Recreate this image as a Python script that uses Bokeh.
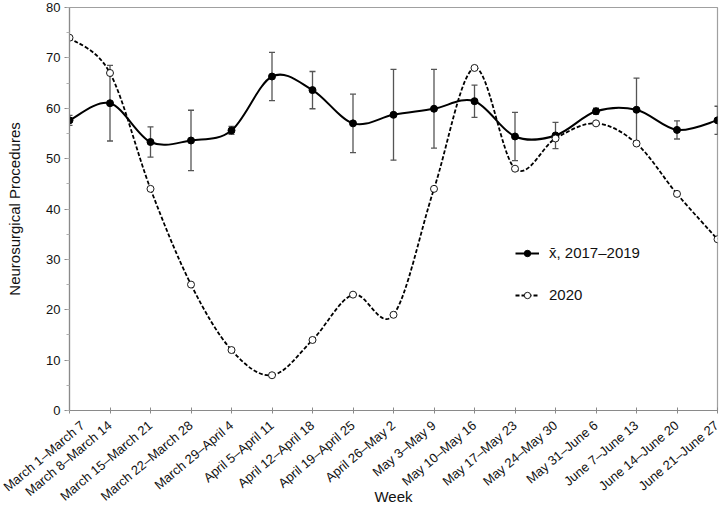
from bokeh.plotting import figure
from bokeh.embed import file_html
from bokeh.resources import INLINE
from bokeh.models import (Range1d, FixedTicker, SingleIntervalTicker, Whisker, TeeHead,
                          ColumnDataSource, Legend, LegendItem)

weeks = ["March 1–March 7", "March 8–March 14", "March 15–March 21", "March 22–March 28",
         "March 29–April 4", "April 5–April 11", "April 12–April 18", "April 19–April 25",
         "April 26–May 2", "May 3–May 9", "May 10–May 16", "May 17–May 23",
         "May 24–May 30", "May 31–June 6", "June 7–June 13", "June 14–June 20",
         "June 21–June 27"]
mean_2017_2019 = [57.6, 61.0, 53.3, 53.6, 55.6, 66.3, 63.6, 57.0, 58.7, 59.9, 61.4,
                  54.4, 54.6, 59.4, 59.7, 55.7, 57.6]
mean_err = [1.0, 7.5, 3.0, 6.0, 0.8, 4.8, 3.7, 5.8, 9.0, 7.8, 3.2, 4.8, 2.6, 0.6, 6.3,
            1.8, 2.8]
values_2020 = [74, 67, 44, 25, 12, 7, 14, 23, 19, 44, 68, 48, 54, 57, 53, 43, 34]

x_idx = list(range(len(weeks)))
FONT = "Liberation Sans"
AXIS_GRAY = "#8a8a8a"


def smooth_segments(xs, ys, t=1.0 / 6.0):
    """Bezier control points (Catmull-Rom style smoothing) through the data points."""
    n = len(xs)
    d = dict(x0=[], y0=[], x1=[], y1=[], cx0=[], cy0=[], cx1=[], cy1=[])
    for i in range(n - 1):
        a = i - 1 if i > 0 else i
        b = i + 2 if i + 2 < n else i + 1
        d["x0"].append(xs[i]); d["y0"].append(ys[i])
        d["x1"].append(xs[i + 1]); d["y1"].append(ys[i + 1])
        d["cx0"].append(xs[i] + (xs[i + 1] - xs[a]) * t)
        d["cy0"].append(ys[i] + (ys[i + 1] - ys[a]) * t)
        d["cx1"].append(xs[i + 1] - (xs[b] - xs[i]) * t)
        d["cy1"].append(ys[i + 1] - (ys[b] - ys[i]) * t)
    return ColumnDataSource(d)


p = figure(width=721, height=508, output_backend="svg", toolbar_location=None,
           x_range=Range1d(0, len(weeks) - 1), y_range=Range1d(0, 80),
           min_border_left=69, min_border_right=4, min_border_top=7, min_border_bottom=96)

p.xgrid.grid_line_color = None
p.ygrid.grid_line_color = None
p.outline_line_color = "#a0a0a0"
p.outline_line_width = 1.2

# error bars
err_src = ColumnDataSource(dict(
    x=x_idx,
    upper=[m + e for m, e in zip(mean_2017_2019, mean_err)],
    lower=[m - e for m, e in zip(mean_2017_2019, mean_err)]))
wh = Whisker(source=err_src, base="x", upper="upper", lower="lower",
             line_color="#555555", line_width=1.3,
             upper_head=TeeHead(size=6, line_color="#555555", line_width=1.3),
             lower_head=TeeHead(size=6, line_color="#555555", line_width=1.3))
p.add_layout(wh)

# smoothed curves
mean_curve = p.bezier(x0="x0", y0="y0", x1="x1", y1="y1", cx0="cx0", cy0="cy0",
                      cx1="cx1", cy1="cy1", source=smooth_segments(x_idx, mean_2017_2019),
                      line_color="black", line_width=2)
c2020_curve = p.bezier(x0="x0", y0="y0", x1="x1", y1="y1", cx0="cx0", cy0="cy0",
                       cx1="cx1", cy1="cy1", source=smooth_segments(x_idx, values_2020),
                       line_color="black", line_width=1.8, line_dash="4 2")

mean_pts = p.scatter(x_idx, mean_2017_2019, size=7, marker="circle",
                     fill_color="black", line_color="black")
pts_2020 = p.scatter(x_idx, values_2020, size=7, marker="circle",
                     fill_color="white", line_color="black", line_width=0.9)

legend = Legend(items=[LegendItem(label="x̄, 2017–2019", renderers=[mean_curve, mean_pts]),
                       LegendItem(label="2020", renderers=[c2020_curve, pts_2020])],
                location=(446, 107), orientation="vertical",
                glyph_width=24, glyph_height=16, label_height=16, spacing=25,
                label_standoff=10, padding=0, margin=0,
                border_line_color=None, background_fill_alpha=0,
                label_text_font=FONT, label_text_font_size="15px",
                label_text_color="#111111")
p.add_layout(legend, "center")

# x axis
xa = p.xaxis[0]
xa.ticker = FixedTicker(ticks=x_idx)
xa.major_label_overrides = {i: w for i, w in enumerate(weeks)}
xa.major_label_orientation = 0.70
xa.axis_label = "Week"
xa.axis_label_text_font = FONT
xa.axis_label_text_font_size = "15px"
xa.axis_label_text_font_style = "normal"
xa.axis_label_text_color = "#111111"
xa.axis_label_standoff = -24
xa.major_label_text_font = FONT
xa.major_label_text_font_size = "13px"
xa.major_label_text_color = "#111111"
xa.major_label_standoff = 10
xa.axis_line_color = AXIS_GRAY
xa.axis_line_width = 1.2
xa.major_tick_line_color = AXIS_GRAY
xa.major_tick_in = 3
xa.major_tick_out = 3
xa.minor_tick_line_color = None

# y axis
ya = p.yaxis[0]
ya.ticker = SingleIntervalTicker(interval=10, num_minor_ticks=2)
ya.axis_label = "Neurosurgical Procedures"
ya.axis_label_text_font = FONT
ya.axis_label_text_font_size = "15px"
ya.axis_label_text_font_style = "normal"
ya.axis_label_text_color = "#111111"
ya.axis_label_standoff = 20
ya.major_label_text_font = FONT
ya.major_label_text_font_size = "13px"
ya.major_label_text_color = "#111111"
ya.major_label_standoff = 4
ya.axis_line_color = AXIS_GRAY
ya.axis_line_width = 1.2
ya.major_tick_line_color = AXIS_GRAY
ya.major_tick_in = 0
ya.major_tick_out = 5
ya.minor_tick_line_color = "#b0b0b0"
ya.minor_tick_in = 0
ya.minor_tick_out = 3

open("out.html", "w").write(file_html(p, INLINE))
